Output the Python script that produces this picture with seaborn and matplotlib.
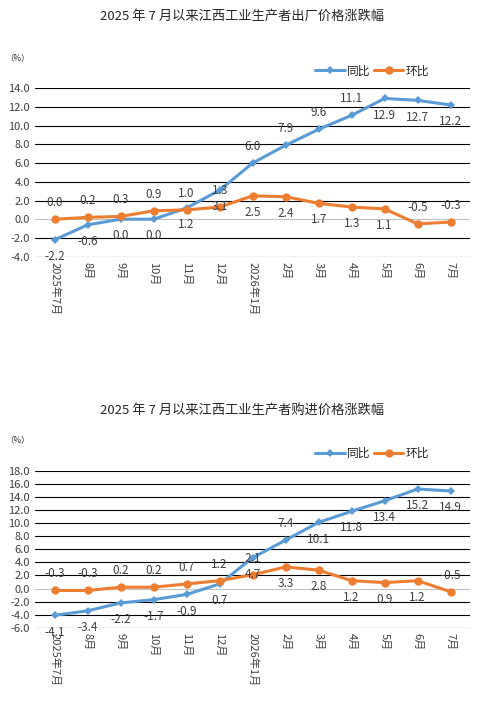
import matplotlib
matplotlib.use("Agg")
import matplotlib.pyplot as plt
import seaborn as sns
import pandas as pd

sns.set_style("white")
plt.rcParams['font.family'] = ['Noto Sans CJK SC', 'DejaVu Sans']

months = ["2025年7月", "8月", "9月", "10月", "11月", "12月", "2026年1月",
          "2月", "3月", "4月", "5月", "6月", "7月"]

out_yoy = [-2.2, -0.6, 0.0, 0.0, 1.2, 3.1, 6.0, 7.9, 9.6, 11.1, 12.9, 12.7, 12.2]
out_mom = [0.0, 0.2, 0.3, 0.9, 1.0, 1.3, 2.5, 2.4, 1.7, 1.3, 1.1, -0.5, -0.3]
in_yoy = [-4.1, -3.4, -2.2, -1.7, -0.9, 0.7, 4.7, 7.4, 10.1, 11.8, 13.4, 15.2, 14.9]
in_mom = [-0.3, -0.3, 0.2, 0.2, 0.7, 1.2, 2.1, 3.3, 2.8, 1.2, 0.9, 1.2, -0.5]

# label side: 1 above, -1 below
out_yoy_side = [-1, -1, -1, -1, -1, -1, 1, 1, 1, 1, -1, -1, -1]
out_mom_side = [1, 1, 1, 1, 1, 1, -1, -1, -1, -1, -1, 1, 1]
in_yoy_side = [-1, -1, -1, -1, -1, -1, -1, 1, -1, -1, -1, -1, -1]
in_mom_side = [1, 1, 1, 1, 1, 1, 1, -1, -1, -1, -1, -1, 1]

blue = "#5b9bd5"
orange = "#ed7d31"

fig = plt.figure(figsize=(4.84, 7.11), dpi=100)


def draw(ax, yoy, mom, ys, ms, ylim, step, title, ty):
    df = pd.DataFrame({"x": range(len(months)), "同比": yoy, "环比": mom})
    sns.lineplot(data=df, x="x", y="同比", ax=ax, color=blue, lw=2.2,
                 marker="D", markersize=4, markeredgewidth=0, label="同比")
    sns.lineplot(data=df, x="x", y="环比", ax=ax, color=orange, lw=2.2,
                 marker="o", markersize=6, markeredgewidth=0, label="环比")
    for vals, sides in ((yoy, ys), (mom, ms)):
        for i, (v, s) in enumerate(zip(vals, sides)):
            ax.annotate(f"{v:.1f}", (i, v), xytext=(0, 12 * s), textcoords="offset points",
                        ha="center", va="center", fontsize=8.5, color="#404040")
    ticks = [ylim[0] + step * k for k in range(int((ylim[1] - ylim[0]) / step) + 1)]
    ax.set_ylim(ylim)
    ax.set_yticks(ticks)
    ax.set_yticklabels([f"{t:.1f}" for t in ticks], fontsize=8, color="#404040")
    for t in ticks:
        ax.axhline(t, color="#c0c0c0" if t == 0 else "black", lw=0.8, zorder=0)
    ax.set_xlim(-0.6, len(months) - 0.4)
    ax.set_xticks(range(len(months)))
    ax.set_xticklabels(months, rotation=270, fontsize=8, color="#404040")
    ax.tick_params(length=0)
    ax.set_xlabel("")
    ax.set_ylabel("")
    for sp in ax.spines.values():
        sp.set_visible(False)
    ax.legend(loc="lower right", bbox_to_anchor=(0.93, 1.0), ncol=2, frameon=False,
              fontsize=8.5, handlelength=2.5, columnspacing=0.3, handletextpad=0.2)
    fig.text(0.5, ty, title, ha="center", fontsize=9.5)
    fig.text(0.01, ax.get_position().y1 + 0.04, "（%）", fontsize=6)


ax1 = fig.add_axes([0.072, 0.639, 0.9, 0.237])
draw(ax1, out_yoy, out_mom, out_yoy_side, out_mom_side, (-4, 14), 2,
     "2025 年 7 月以来江西工业生产者出厂价格涨跌幅", 0.972)
ax2 = fig.add_axes([0.072, 0.117, 0.9, 0.221])
draw(ax2, in_yoy, in_mom, in_yoy_side, in_mom_side, (-6, 18), 2,
     "2025 年 7 月以来江西工业生产者购进价格涨跌幅", 0.417)

fig.savefig("out.png", dpi=100)
